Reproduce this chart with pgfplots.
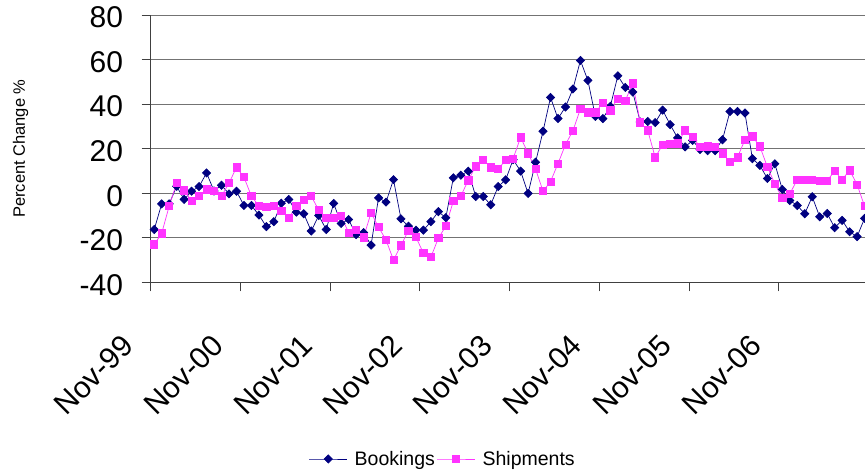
\documentclass[border=0pt]{standalone}
\usepackage{fontspec}
\setmainfont{Liberation Sans}
\usepackage{pgfplots}
\usepackage{pgfplotstable}
\pgfplotsset{compat=1.18}
\definecolor{book}{HTML}{000080}
\definecolor{ship}{HTML}{FF33FF}

\pgfplotstableread{
i b s
0 -16.3 -23
1 -4.8 -18
2 -4.8 -5.8
3 3.1 4.5
4 -2.8 1.3
5 0.9 -3.6
6 3.0 -1.3
7 9.1 1.7
8 1.0 0.9
9 3.6 -1.3
10 -0.3 4.5
11 0.9 11.6
12 -5.5 7.2
13 -5.5 -1.3
14 -9.8 -5.8
15 -15 -6.3
16 -12.8 -5.8
17 -4.5 -8
18 -2.8 -11.2
19 -8.5 -5.8
20 -9.2 -3.1
21 -17 -1.3
22 -10 -7.6
23 -16.3 -10.9
24 -4.6 -10.9
25 -13.6 -10.3
26 -11.8 -17.7
27 -18.6 -16.6
28 -17.7 -19.8
29 -23.3 -8.8
30 -2.1 -15.2
31 -4 -21
32 6.1 -30
33 -11.5 -23.4
34 -14.8 -16.8
35 -16.6 -19.7
36 -16.6 -26.9
37 -12.8 -28.7
38 -8.3 -20.2
39 -11 -14.8
40 6.9 -3.6
41 8.1 -1.3
42 9.9 5.8
43 -1.5 12.1
44 -1.5 15.1
45 -5.2 11.6
46 3 10.9
47 6 14.8
48 15.1 15.5
49 9.9 25.1
50 -0.1 17.9
51 13.9 10.9
52 27.8 0.9
53 43 5.2
54 33.5 13.3
55 38.7 21.8
56 46.8 28.1
57 59.6 37.8
58 50.6 36.3
59 34.5 36.3
60 33.5 40.5
61 39 37.2
62 52.7 42.5
63 47.5 41.6
64 45.4 49.3
65 32 31.8
66 32.2 28.2
67 31.7 16.1
68 37.3 21.8
69 30.8 22.3
70 24.8 22.4
71 20.8 28.2
72 23.7 25.3
73 19.6 20.8
74 19.1 21
75 19.1 20.8
76 24 17.9
77 36.7 13.9
78 36.7 16.1
79 36 24
80 15.5 25.5
81 12.5 21
82 6.6 11.8
83 13.2 4.2
84 1.7 -2.2
85 -3.3 -0.3
86 -5.5 6.1
87 -9.2 6.1
88 -1.6 6.1
89 -10.6 5.7
90 -9.1 5.7
91 -15.5 9.9
92 -12.2 6.1
93 -17.3 10.3
94 -19.5 3.9
95 -11.3 -5.8
}\data

\begin{document}
\begin{tikzpicture}
\begin{axis}[
  at={(150.7bp,-282.3bp)}, anchor=south west,
  scale only axis, width=714.3bp, height=267.3bp,
  xmin=-0.47, xmax=95.06, ymin=-40, ymax=80,
  axis x line*=bottom, axis y line*=left,
  axis line style={line width=1bp, black!75, -},
  tick align=outside, major tick length=9bp,
  tick style={line width=1bp, black!75},
  xtick={-0.47,11.53,23.53,35.53,47.53,59.53,71.53,83.53},
  xticklabels={Nov-99,Nov-00,Nov-01,Nov-02,Nov-03,Nov-04,Nov-05,Nov-06},
  ytick={-40,-20,0,20,40,60,80},
  yticklabels={-40,-20,0,20,40,60,80},
  ymajorgrids, grid style={line width=0.8bp, black!55},
  tick label style={font=\fontsize{30bp}{36bp}\selectfont, inner sep=0pt},
  yticklabel style={anchor=east, xshift=-18.5bp, yshift=-2.5bp},
  xticklabel style={xshift=-22.7bp, yshift=-49.4bp, rotate=45, anchor=east},
  ylabel={Percent Change \%},
  ylabel style={font=\fontsize{16.5bp}{20bp}\selectfont, at={(axis description cs:-0.176,0.5)}, anchor=base, inner sep=0pt},
  legend columns=2,
  legend style={at={(axis description cs:0.409,-0.661)}, anchor=center, draw=none, fill=none,
    font=\fontsize{19.5bp}{23bp}\selectfont,
    /tikz/every odd column/.append style={column sep=5bp},
    /tikz/every even column/.append style={column sep=0bp}},
  legend image code/.code={\draw[mark repeat=2,mark phase=2,#1] plot coordinates {(0bp,0bp) (19bp,0bp) (38bp,0bp)};},
]
\addplot[book, line width=0.7bp, mark=square*, mark size=2.9bp, mark options={rotate=45, solid, fill=book, draw=book}] table[x=i,y=b]{\data};
\addlegendentry{Bookings}
\addplot[ship, line width=0.7bp, mark=square*, mark size=3.6bp, mark options={solid, fill=ship, draw=ship}] table[x=i,y=s]{\data};
\addlegendentry{Shipments}
\end{axis}
\pgfresetboundingbox
\path[use as bounding box] (0bp,0bp) rectangle (865bp,-476bp);
\end{tikzpicture}
\end{document}
